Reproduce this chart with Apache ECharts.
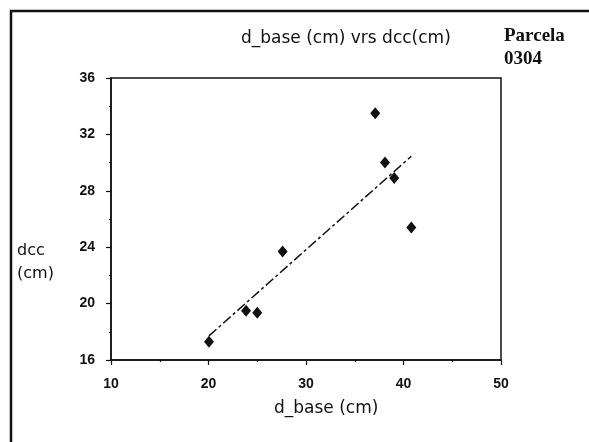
<!DOCTYPE html>
<html>
<head>
<meta charset="utf-8">
<script src="https://cdn.jsdelivr.net/npm/echarts@6/dist/echarts.min.js"></script>
<style>
  html, body { margin: 0; padding: 0; background: #fff; }
  #chart { width: 589px; height: 442px; }
</style>
</head>
<body>
<div id="chart"></div>
<script>
// d_base vs dcc measurements, plot 0304
const dBase = [20.05, 23.85, 25.0, 27.6, 37.1, 38.1, 39.05, 40.8];
const dcc   = [17.3, 19.5, 19.35, 23.7, 33.5, 30.0, 28.9, 25.4];
const xTicks = [10, 20, 30, 40, 50];
const yTicks = [16, 20, 24, 28, 32, 36];

const titleText = 'd_base (cm) vrs dcc(cm)';
const plotTag = 'Parcela\n0304';
const xName = 'd_base (cm)';
const yName = 'dcc\n(cm)';

// least-squares fit through the measured pairs
function linearFit(xs, ys) {
  const n = xs.length;
  const mx = xs.reduce((a, b) => a + b, 0) / n;
  const my = ys.reduce((a, b) => a + b, 0) / n;
  let sxy = 0, sxx = 0;
  for (let i = 0; i < n; i++) {
    sxy += (xs[i] - mx) * (ys[i] - my);
    sxx += (xs[i] - mx) * (xs[i] - mx);
  }
  const slope = sxy / sxx;
  return { slope, intercept: my - slope * mx };
}
const fit = linearFit(dBase, dcc);
const xMinData = Math.min(...dBase), xMaxData = Math.max(...dBase);
const fitLine = [
  [xMinData, fit.intercept + fit.slope * xMinData],
  [xMaxData, fit.intercept + fit.slope * xMaxData]
];

const ink = '#111';
const sansFont = 'DejaVu Sans';
const tickFont = "'Liberation Sans Narrow', 'Liberation Sans', Arial, sans-serif";

const chart = echarts.init(document.getElementById('chart'), null, { renderer: 'canvas' });
chart.setOption({
  backgroundColor: '#fff',
  animation: false,
  title: {
    text: titleText,
    left: 236,
    top: 25,
    textStyle: { fontFamily: sansFont, fontSize: 17, fontWeight: 'normal', color: ink }
  },
  grid: {
    left: 111, right: 88, top: 78, bottom: 82,
    show: true, borderColor: ink, borderWidth: 1.5, backgroundColor: '#fff'
  },
  xAxis: {
    type: 'value',
    min: xTicks[0], max: xTicks[xTicks.length - 1], interval: 10,
    axisLine: { show: true, lineStyle: { color: ink, width: 1.5 } },
    axisTick: { show: true, inside: false, length: 5, lineStyle: { color: ink, width: 1.2 } },
    minorTick: { show: true, splitNumber: 2, length: 2, lineStyle: { color: ink, width: 1.2 } },
    splitLine: { show: false },
    axisLabel: {
      margin: 17, color: ink, fontFamily: tickFont, fontWeight: 'bold', fontSize: 14,
      formatter: v => xTicks.includes(v) ? String(v) : ''
    }
  },
  yAxis: {
    type: 'value',
    min: yTicks[0], max: yTicks[yTicks.length - 1], interval: 4,
    axisLine: { show: true, lineStyle: { color: ink, width: 1.5 } },
    axisTick: { show: true, inside: false, length: 5, lineStyle: { color: ink, width: 1.2 } },
    minorTick: { show: true, splitNumber: 2, length: 2, lineStyle: { color: ink, width: 1.2 } },
    splitLine: { show: false },
    axisLabel: {
      margin: 16, color: ink, fontFamily: tickFont, fontWeight: 'bold', fontSize: 14,
      formatter: v => yTicks.includes(v) ? String(v) : ''
    }
  },
  graphic: [
    {
      type: 'rect', silent: true, z: 100,
      shape: { x: 11, y: 11, width: 640, height: 500 },
      style: { fill: 'none', stroke: ink, lineWidth: 2.5 }
    },
    {
      type: 'text', left: 504, top: 25, z: 100,
      style: {
        text: plotTag, fill: ink, fontFamily: "'Liberation Serif', 'Times New Roman', serif",
        fontWeight: 'bold', fontSize: 19, lineHeight: 23
      }
    },
    {
      type: 'text', left: 17, top: 239, z: 100,
      style: { text: yName, fill: ink, fontFamily: sansFont, fontSize: 16, lineHeight: 23 }
    },
    {
      type: 'text', left: 274, top: 400, z: 100,
      style: { text: xName, fill: ink, fontFamily: sansFont, fontSize: 17 }
    }
  ],
  series: [
    {
      type: 'line',
      data: fitLine,
      showSymbol: false,
      symbol: 'none',
      lineStyle: { color: ink, width: 1.5, type: [10, 3, 3, 3] },
      z: 2
    },
    {
      type: 'scatter',
      data: dBase.map((x, i) => [x, dcc[i]]),
      symbol: 'diamond',
      symbolSize: [10, 12],
      itemStyle: { color: ink, opacity: 1 },
      z: 3
    }
  ]
});
</script>
</body>
</html>
